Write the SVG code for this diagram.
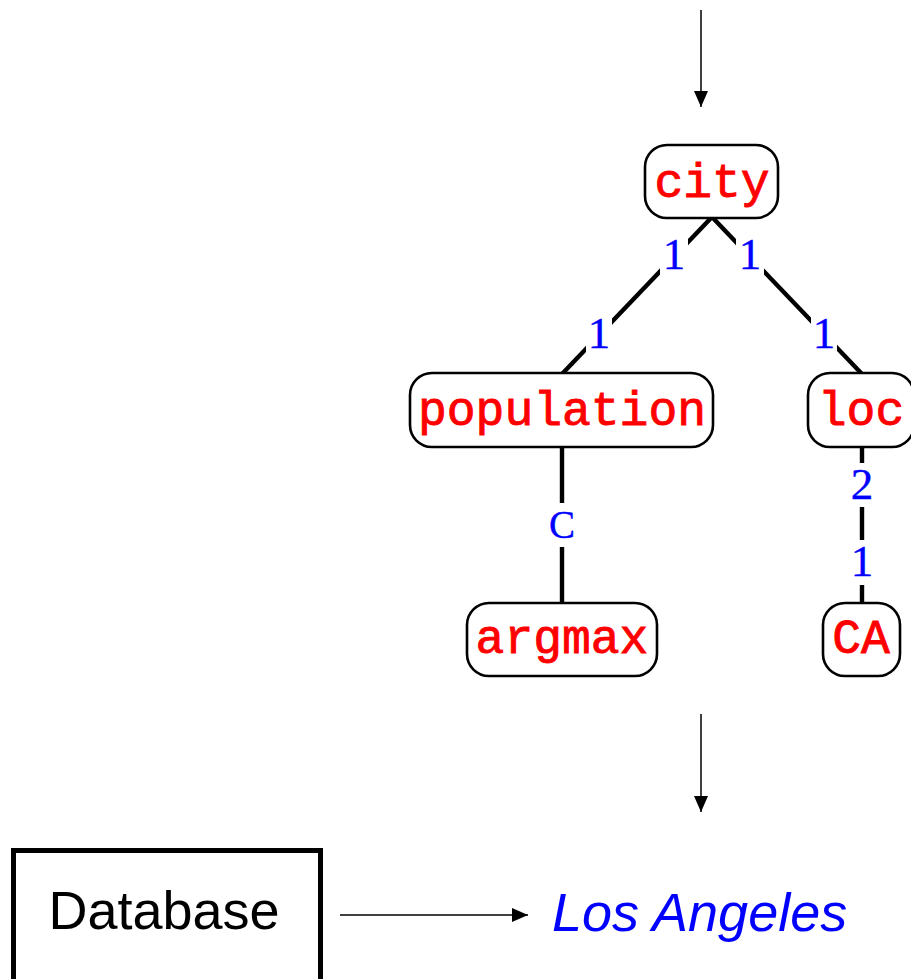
<svg xmlns="http://www.w3.org/2000/svg" width="911" height="979" viewBox="0 0 911 979">
  <style>
    .node rect { fill: #ffffff; stroke: #000000; stroke-width: 2.6; }
    .pred { font-family: "Liberation Mono", "DejaVu Sans Mono", monospace; font-size: 48px; fill: #ff0000; stroke: #ff0000; stroke-width: 0.9; text-anchor: middle; }
    .edge { stroke: #000000; stroke-width: 4.4; fill: none; }
    .flow { stroke: #000000; stroke-width: 1.5; fill: none; }
    .lblbg { fill: #ffffff; }
    .lbl { font-family: "Liberation Serif", "DejaVu Serif", serif; font-size: 45px; fill: #0000ff; stroke: #0000ff; stroke-width: 0.4; text-anchor: middle; }
    .sans { font-family: "Liberation Sans", "DejaVu Sans", sans-serif; font-size: 54px; }
  </style>
  <defs>
    <marker id="arrow" viewBox="0 0 16 14" refX="16" refY="7" markerWidth="16" markerHeight="14" markerUnits="userSpaceOnUse" orient="auto">
      <path d="M0,0 L16,7 L0,14 Z" fill="#000000"/>
    </marker>
  </defs>

  <!-- tree edges with their argument-position labels -->
  <g id="connectors">
    <line class="edge" x1="712" y1="217" x2="562" y2="374"/>
    <line class="edge" x1="712" y1="217" x2="862" y2="374"/>
    <line class="edge" x1="562" y1="447" x2="562" y2="603"/>
    <line class="edge" x1="862" y1="447" x2="862" y2="603"/>

    <rect class="lblbg" x="660" y="233" width="28" height="42"/>
    <rect class="lblbg" x="586" y="312" width="26" height="42"/>
    <rect class="lblbg" x="736" y="233" width="28" height="42"/>
    <rect class="lblbg" x="811" y="312" width="26" height="42"/>
    <rect class="lblbg" x="546" y="503" width="32" height="44"/>
    <rect class="lblbg" x="848" y="463" width="28" height="44"/>
    <rect class="lblbg" x="848" y="540" width="28" height="45"/>

    <text class="lbl" x="674" y="269">1</text>
    <text class="lbl" x="599" y="348">1</text>
    <text class="lbl" x="750" y="269">1</text>
    <text class="lbl" x="824" y="348">1</text>
    <text class="lbl" x="562" y="538" style="font-size:39px">C</text>
    <text class="lbl" x="862" y="499">2</text>
    <text class="lbl" x="862" y="576">1</text>

    <!-- pipeline arrows -->
    <line class="flow" x1="701" y1="10" x2="701" y2="107" marker-end="url(#arrow)"/>
    <line class="flow" x1="701" y1="714" x2="701" y2="812" marker-end="url(#arrow)"/>
    <line class="flow" x1="340" y1="915" x2="528" y2="915" marker-end="url(#arrow)"/>
  </g>

  <!-- logical form nodes -->
  <g id="city" class="node">
    <rect x="645" y="145" width="133" height="73" rx="22"/>
    <text class="pred" x="712" y="197">city</text>
  </g>
  <g id="population" class="node">
    <rect x="410" y="373" width="303" height="74" rx="22"/>
    <text class="pred" x="562" y="425">population</text>
  </g>
  <g id="loc" class="node">
    <rect x="808" y="373" width="106" height="74" rx="22"/>
    <text class="pred" x="861" y="425">loc</text>
  </g>
  <g id="argmax" class="node">
    <rect x="467" y="603" width="190" height="73" rx="22"/>
    <text class="pred" x="562" y="653">argmax</text>
  </g>
  <g id="CA" class="node">
    <rect x="823" y="603" width="77" height="73" rx="22"/>
    <text class="pred" x="861" y="653">CA</text>
  </g>

  <!-- execution against the database -->
  <g id="database">
    <rect x="13.5" y="850.5" width="307" height="140" fill="#ffffff" stroke="#000000" stroke-width="5"/>
    <text class="sans" x="164" y="929" text-anchor="middle" fill="#000000">Database</text>
  </g>
  <g id="answer">
    <text class="sans" x="552" y="931" fill="#0000ff" font-style="italic">Los Angeles</text>
  </g>
</svg>
